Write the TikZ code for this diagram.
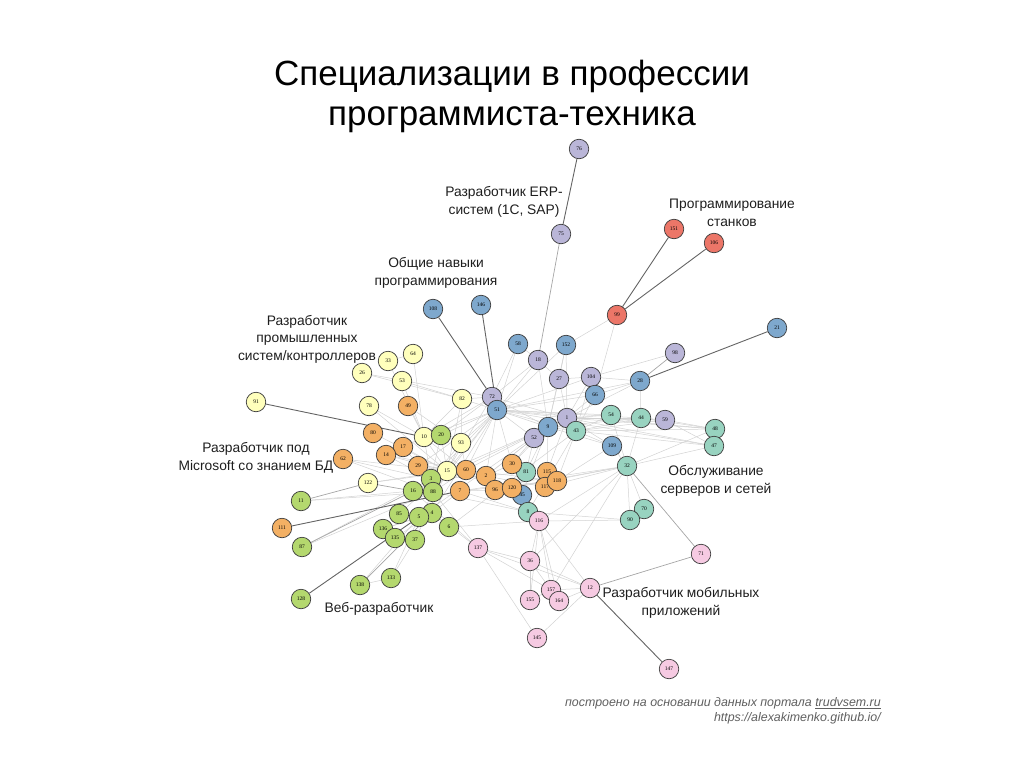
\documentclass[tikz,border=0pt]{standalone}
\usepackage{fontspec}
\setmainfont{Liberation Sans}
\newfontfamily\numfont{Liberation Serif}
\usetikzlibrary{backgrounds}
\definecolor{cBlue}{RGB}{126,168,205}
\definecolor{cPurp}{RGB}{186,182,216}
\definecolor{cYel}{RGB}{255,255,188}
\definecolor{cOra}{RGB}{243,176,100}
\definecolor{cGrn}{RGB}{180,216,110}
\definecolor{cTeal}{RGB}{152,211,192}
\definecolor{cPink}{RGB}{246,202,226}
\definecolor{cRed}{RGB}{236,118,104}
\definecolor{ndline}{RGB}{60,60,60}
\definecolor{edLight}{RGB}{210,210,210}
\definecolor{edMid}{RGB}{165,165,165}
\definecolor{edDark}{RGB}{100,100,100}
\definecolor{labText}{RGB}{30,30,30}
\definecolor{footText}{RGB}{95,95,95}
\begin{document}
\begin{tikzpicture}[x=1pt,y=-1pt,
  nd/.style={circle,draw=ndline,line width=0.7pt,minimum size=19.5pt,inner sep=0pt,font=\numfont\fontsize{5.5}{6}\selectfont},
  bl/.style={nd,fill=cBlue},
  pu/.style={nd,fill=cPurp},
  ye/.style={nd,fill=cYel},
  or/.style={nd,fill=cOra},
  gr/.style={nd,fill=cGrn},
  te/.style={nd,fill=cTeal},
  pk/.style={nd,fill=cPink},
  rd/.style={nd,fill=cRed},
  ed/.style={draw=edLight,line width=0.5pt},
  em/.style={draw=edMid,line width=0.7pt},
  ek/.style={draw=edDark,line width=0.9pt},
  lab/.style={font=\fontsize{13.8}{17.5}\selectfont,align=center,text=labText,inner sep=0pt}]
\useasboundingbox (0,0) rectangle (1024,768);
% title
\node[font=\fontsize{35}{40}\selectfont,align=center,text=black,inner sep=0pt] (title) at (512,96) {Специализации в профессии\\программиста-техника};
% purple
\node[pu] (n76) at (579,149) {76};
\node[pu] (n75) at (561,234) {75};
\node[pu] (n72) at (492,397) {72};
\node[pu] (n18) at (538,360) {18};
\node[pu] (n27) at (559,379) {27};
\node[pu] (n104) at (591,377) {104};
\node[pu] (n98) at (675,353) {98};
\node[pu] (n1) at (567,418) {1};
\node[pu] (n52) at (534,438) {52};
\node[pu] (n59) at (665,420) {59};
% red
\node[rd] (n151) at (674,229) {151};
\node[rd] (n106) at (714,243) {106};
\node[rd] (n99) at (617,315) {99};
% blue
\node[bl] (n108) at (433,309) {108};
\node[bl] (n146) at (481,305) {146};
\node[bl] (n58) at (518,344) {58};
\node[bl] (n152) at (566,345) {152};
\node[bl] (n66) at (595,395) {66};
\node[bl] (n28) at (640,381) {28};
\node[bl] (n21) at (777,328) {21};
\node[bl] (n51) at (497,410) {51};
\node[bl] (n9) at (548,427) {9};
\node[bl] (n109) at (612,446) {109};
\node[bl] (n45) at (522,495) {45};
% teal
\node[te] (n54) at (611,415) {54};
\node[te] (n44) at (641,418) {44};
\node[te] (n43) at (576,431) {43};
\node[te] (n48) at (715,429) {48};
\node[te] (n47) at (714,446) {47};
\node[te] (n32) at (627,466) {32};
\node[te] (n81) at (526,472) {81};
\node[te] (n8) at (528,512) {8};
\node[te] (n70) at (644,509) {70};
\node[te] (n90) at (630,520) {90};
% yellow
\node[ye] (n64) at (413,354) {64};
\node[ye] (n33) at (388,361) {33};
\node[ye] (n26) at (362,373) {26};
\node[ye] (n53) at (402,381) {53};
\node[ye] (n82) at (462,399) {82};
\node[ye] (n91) at (256,402) {91};
\node[ye] (n78) at (369,406) {78};
\node[ye] (n10) at (424,437) {10};
\node[ye] (n93) at (461,443) {93};
\node[ye] (n15) at (447,471) {15};
\node[ye] (n122) at (368,483) {122};
% orange
\node[or] (n49) at (408,406) {49};
\node[or] (n80) at (373,433) {80};
\node[or] (n17) at (403,447) {17};
\node[or] (n14) at (386,455) {14};
\node[or] (n62) at (343,459) {62};
\node[or] (n29) at (418,466) {29};
\node[or] (n60) at (466,470) {60};
\node[or] (n2) at (486,476) {2};
\node[or] (n30) at (512,464) {30};
\node[or] (n96) at (495,490) {96};
\node[or] (n120) at (512,488) {120};
\node[or] (n115) at (547,472) {115};
\node[or] (n117) at (545,487) {117};
\node[or] (n118) at (557,481) {118};
\node[or] (n7) at (460,491) {7};
\node[or] (n111) at (282,528) {111};
% green
\node[gr] (n20) at (441,435) {20};
\node[gr] (n3) at (431,479) {3};
\node[gr] (n16) at (413,491) {16};
\node[gr] (n88) at (433,492) {88};
\node[gr] (n11) at (301,501) {11};
\node[gr] (n85) at (399,514) {85};
\node[gr] (n4) at (432,513) {4};
\node[gr] (n5) at (419,517) {5};
\node[gr] (n6) at (449,527) {6};
\node[gr] (n136) at (383,529) {136};
\node[gr] (n135) at (395,538) {135};
\node[gr] (n37) at (415,540) {37};
\node[gr] (n87) at (302,547) {87};
\node[gr] (n133) at (391,578) {133};
\node[gr] (n138) at (360,585) {138};
\node[gr] (n128) at (301,599) {128};
% pink
\node[pk] (n116) at (539,521) {116};
\node[pk] (n137) at (478,548) {137};
\node[pk] (n36) at (530,561) {36};
\node[pk] (n157) at (551,590) {157};
\node[pk] (n164) at (559,601) {164};
\node[pk] (n155) at (530,600) {155};
\node[pk] (n12) at (590,588) {12};
\node[pk] (n71) at (701,554) {71};
\node[pk] (n145) at (537,638) {145};
\node[pk] (n147) at (669,669) {147};
% edges
\begin{scope}[on background layer]
\foreach \a/\b in {51/9,51/52,51/1,51/43,51/54,51/66,51/104,51/152,51/58,51/18,51/28,51/15,51/60,51/2,51/93,51/10,51/30,51/82,51/20,51/29,51/44,51/48,51/47,%
 72/58,72/18,72/82,72/26,72/10,72/15,72/20,72/1,72/9,%
 9/1,9/52,9/18,9/27,9/43,9/2,9/30,9/81,9/152,9/60,9/15,9/44,9/109,%
 1/27,1/104,1/152,1/66,1/43,1/54,1/44,1/59,1/48,1/47,1/109,1/28,%
 43/54,43/44,43/48,43/47,43/109,43/59,43/66,43/104,%
 54/32,44/32,44/59,59/48,59/47,44/48,%
 66/28,104/98,28/44,104/28,%
 109/32,32/90,32/70,32/47,32/48,90/70,8/90,116/90,45/8,8/116,45/120,%
 118/109,117/118,115/118,81/30,81/120,2/96,96/120,30/2,%
 33/64,26/82,53/82,53/10,64/10,33/10,78/10,78/15,49/10,49/93,82/10,82/15,82/93,%
 17/10,17/15,14/15,14/60,29/15,29/60,62/15,62/88,62/3,80/15,%
 20/10,20/15,20/3,20/93,10/15,10/60,93/15,93/60,%
 122/15,122/60,11/16,11/88,87/3,87/88,136/5,135/4,135/37,138/5,133/37,138/133,133/5,136/4,85/4,%
 116/36,116/157,116/164,116/12,116/155,36/157,36/155,36/12,155/157,157/12,164/12,%
 137/36,137/157,137/12,137/145,145/12,137/88,137/4,137/16,%
 60/118,7/118,2/81,7/8,6/116,88/8,3/2,16/60,15/120,60/96,7/96,2/117,%
 6/43,5/9,4/51,88/51,3/51,16/9,7/32,96/32,120/32,117/32,118/43,%
 99/152,99/66,18/27,58/18,27/104,152/27,%
 15/3,29/3,14/3,17/3,10/3,93/3,60/3,15/88,60/88,7/4,6/4,5/15,85/15,37/15,%
 115/9,115/1,30/52,81/52,2/52,45/9,8/43,116/32,36/32,157/32} \draw[ed] (n\a) -- (n\b);
\foreach \a/\b in {75/18,98/28,71/32,71/12,87/16,11/122,138/4,122/16} \draw[em] (n\a) -- (n\b);
\foreach \a/\b in {76/75,151/99,106/99,108/72,146/51,91/10,21/28,128/5,111/7,147/12} \draw[ek] (n\a) -- (n\b);
\end{scope}
% labels
\node[lab] (lERP) at (504,202) {Разработчик ERP-\\систем (1С, SAP)};
\node[lab] (lCNC) at (732,213) {Программирование\\станков};
\node[lab] (lGen) at (436,273) {Общие навыки\\программирования};
\node[lab] (lInd) at (307,339) {Разработчик\\промышленных\\систем/контроллеров};
\node[lab] (lMS) at (256,458) {Разработчик под\\Microsoft со знанием БД};
\node[lab] (lSrv) at (716,481) {Обслуживание\\серверов и сетей};
\node[lab] (lMob) at (681,603) {Разработчик мобильных\\приложений};
\node[lab] (lWeb) at (379,609) {Веб-разработчик};
% footer
\node[font=\itshape\fontsize{12.4}{15}\selectfont,text=footText,align=right,anchor=east,inner sep=0pt] (foot) at (881,711) {построено на основании данных портала \underline{trudvsem.ru}\\https://alexakimenko.github.io/};
\end{tikzpicture}
\end{document}
